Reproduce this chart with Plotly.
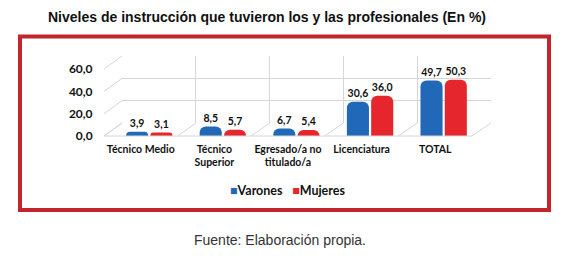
import plotly.graph_objects as go

categories = ["Técnico Medio", "Técnico<br>Superior", "Egresado/a no<br>titulado/a", "Licenciatura", "TOTAL"]
varones = [3.9, 8.5, 6.7, 30.6, 49.7]
mujeres = [3.1, 5.7, 5.4, 36.0, 50.3]
y_ticks = [0, 20, 40, 60]
series_names = ["Varones", "Mujeres"]
series_colors = ["#2268b8", "#e5262c"]

W, H = 565, 262
def px(x): return x / W
def py(y): return 1 - y / H

FONT = "Lato"
idx = list(range(len(categories)))

fig = go.Figure()
fig.add_trace(go.Scatter(x=[0], y=[0], xaxis="x", yaxis="y", mode="markers",
                         marker=dict(opacity=0), showlegend=False, hoverinfo="skip"))
for name, vals, col, off in [(series_names[0], varones, series_colors[0], -0.2),
                             (series_names[1], mujeres, series_colors[1], 0.13)]:
    fig.add_trace(go.Bar(name=name, x=idx, y=vals, xaxis="x2", yaxis="y2",
                         marker=dict(color=col, cornerradius=6, line=dict(width=0)),
                         width=0.3, offset=off, showlegend=False,
                         texttemplate="%{y:.1f}", textposition="outside", cliponaxis=False,
                         textfont=dict(family=FONT, size=10.5, color="#111", weight="bold")))

shapes = []
grid = "#d6d6d6"
for v in y_ticks:
    shapes.append(dict(type="line", xref="paper", yref="paper",
                       x0=px(122), y0=py(123 - v * 67 / 60), x1=px(104), y1=py(136 - v * 67 / 60),
                       line=dict(color=grid, width=1)))
for i in range(len(categories) + 1):
    shapes.append(dict(type="line", xref="paper", yref="paper",
                       x0=px(122 + i * 73.8), y0=py(123), x1=px(104 + i * 73.6), y1=py(136),
                       line=dict(color=grid, width=1)))
shapes.append(dict(type="line", xref="paper", yref="paper",
                   x0=px(104), y0=py(136), x1=px(472), y1=py(136),
                   line=dict(color=grid, width=1)))
shapes.append(dict(type="rect", xref="paper", yref="paper",
                   x0=px(20), x1=px(549), y0=py(36.5), y1=py(210),
                   line=dict(color="#c0262c", width=4)))

legend_text = "   ".join(
    f"<span style='color:{c}'>■</span><b>{n}</b>" for n, c in zip(series_names, series_colors))

fig.update_layout(
    width=W, height=H, margin=dict(l=0, r=0, t=0, b=0, pad=0, autoexpand=False),
    paper_bgcolor="white", plot_bgcolor="rgba(0,0,0,0)",
    separators=",.",
    barmode="group", showlegend=False,
    xaxis=dict(domain=[px(122), px(491)], range=[0, 5], tickvals=list(range(6)),
               showticklabels=False, showgrid=True, gridcolor=grid, zeroline=False,
               showline=False, automargin=False),
    yaxis=dict(domain=[py(123), py(56)], range=[0, 60], tickvals=y_ticks,
               showticklabels=False, showgrid=True, gridcolor=grid, zeroline=False,
               showline=False, automargin=False),
    xaxis2=dict(domain=[px(104), px(472)], range=[-0.5, 4.5], anchor="y2",
                tickvals=idx, ticktext=categories, showgrid=False, zeroline=False,
                showline=False, ticks="outside", ticklen=3, tickcolor="rgba(0,0,0,0)",
                tickangle=0, automargin=False,
                tickfont=dict(family=FONT, size=10.5, color="#111", weight="bold")),
    yaxis2=dict(domain=[py(136), py(69)], range=[0, 60], anchor="x2",
                tickvals=y_ticks, tickformat=".1f", showgrid=False, zeroline=False,
                showline=False, ticks="outside", ticklen=8, tickcolor="rgba(0,0,0,0)",
                automargin=False,
                tickfont=dict(family=FONT, size=12, color="#111", weight="bold")),
    shapes=shapes,
    annotations=[
        dict(text="<b>Niveles de instrucción que tuvieron los y las profesionales (En %)</b>",
             xref="paper", yref="paper", x=px(267), y=py(17), showarrow=False,
             xanchor="center", yanchor="middle",
             font=dict(family="Liberation Sans", size=14, color="#111")),
        dict(text=legend_text, xref="paper", yref="paper", x=px(287), y=py(190),
             showarrow=False, xanchor="center", yanchor="middle",
             font=dict(family=FONT, size=12.5, color="#111")),
        dict(text="Fuente: Elaboración propia.",
             xref="paper", yref="paper", x=px(280), y=py(240), showarrow=False,
             xanchor="center", yanchor="middle",
             font=dict(family="Liberation Sans", size=14, color="#333")),
    ],
)

fig.write_html("out.html", config={"displayModeBar": False},
               post_script="document.body.style.margin='0';")
